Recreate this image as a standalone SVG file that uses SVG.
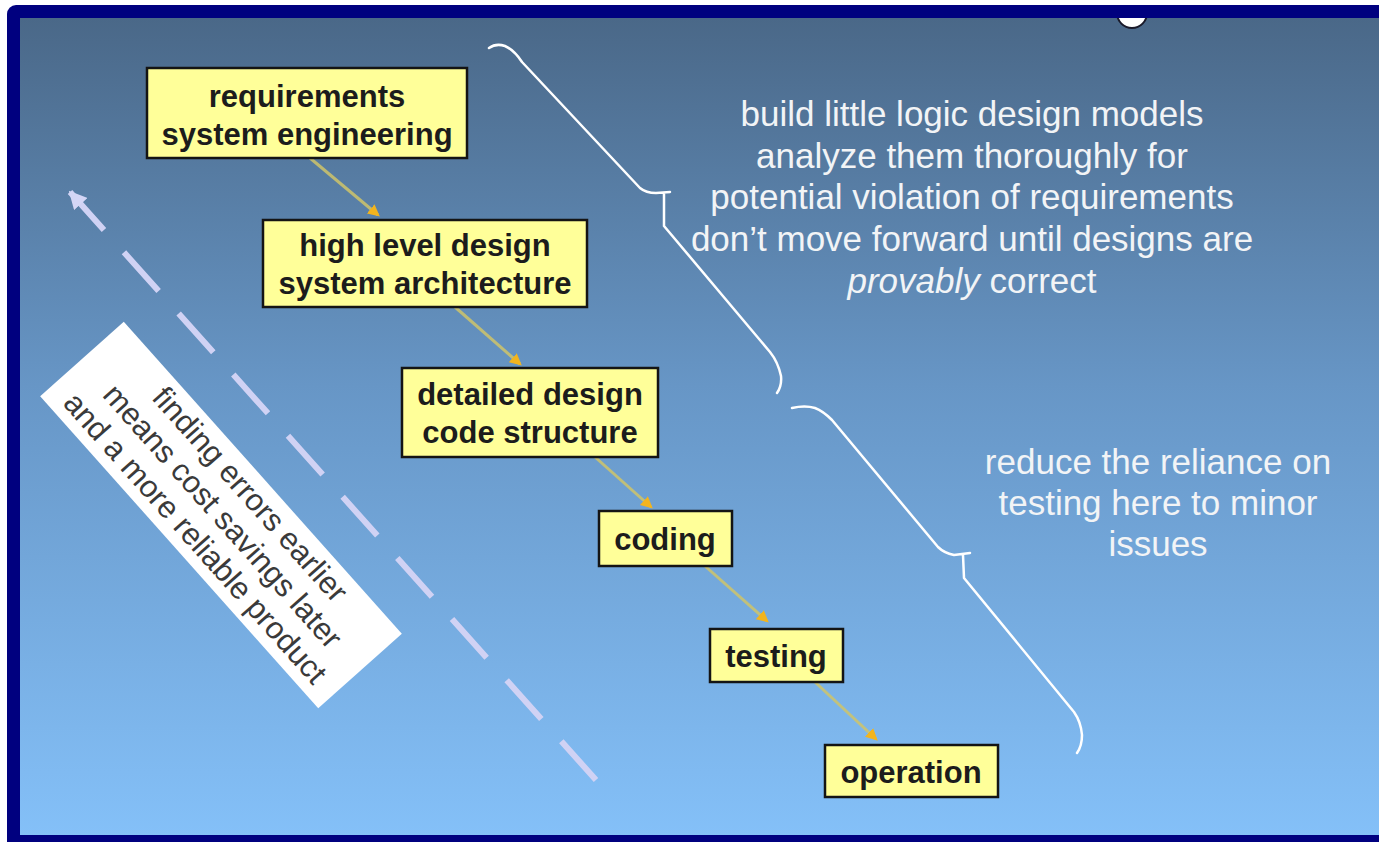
<svg xmlns="http://www.w3.org/2000/svg" width="1379" height="842" viewBox="0 0 1379 842">
  <defs>
    <linearGradient id="sky" x1="0" y1="0" x2="0" y2="1">
      <stop offset="0" stop-color="#4a6888"/>
      <stop offset="0.45" stop-color="#6796c6"/>
      <stop offset="1" stop-color="#84c0f8"/>
    </linearGradient>
    <clipPath id="inner">
      <rect x="20" y="18" width="1359" height="817"/>
    </clipPath>
    <marker id="flowHead" viewBox="0 0 10 10" refX="8" refY="5" markerWidth="4" markerHeight="4" orient="auto">
      <path d="M0,0 L10,5 L0,10 z" fill="#f2b41e"/>
    </marker>
    <marker id="backHead" viewBox="0 0 10 10" refX="9" refY="5" markerWidth="3" markerHeight="3" orient="auto">
      <path d="M0,0 L10,5 L0,10 z" fill="#d4d6f6"/>
    </marker>
  </defs>
  <style>
    .box { fill: #ffff99; stroke: #141414; stroke-width: 2.5; }
    .lbl { font-family: "Liberation Sans", Arial, sans-serif; font-weight: bold; font-size: 31px; fill: #1c1c1c; text-anchor: middle; }
    .note { font-family: "Liberation Sans", Arial, sans-serif; font-size: 35px; fill: #f2f4f6; text-anchor: middle; }
    .card { font-family: "Liberation Sans", Arial, sans-serif; font-size: 31px; fill: #3a3a3a; text-anchor: middle; }
    .flow { stroke: #cfc46a; stroke-width: 3; fill: none; stroke-opacity: 0.85; marker-end: url(#flowHead); }
    .brace { stroke: #ffffff; stroke-width: 2.5; fill: none; stroke-linejoin: round; stroke-linecap: round; }
  </style>

  <!-- frame -->
  <rect x="0" y="0" width="1379" height="842" fill="#ffffff"/>
  <rect x="7" y="5" width="1390" height="850" rx="9" fill="#00007f"/>
  <rect x="20" y="18" width="1359" height="817" fill="url(#sky)"/>
  <g clip-path="url(#inner)">
    <circle cx="1132" cy="13" r="15" fill="#ffffff" stroke="#1a1a2a" stroke-width="2"/>
  </g>

  <!-- backward feedback arrow -->
  <g id="feedback-arrow">
    <line x1="596" y1="780" x2="70" y2="192" stroke="#d0d2f4" stroke-width="6" stroke-dasharray="52 30" marker-end="url(#backHead)"/>
  </g>

  <!-- rotated note card -->
  <g id="cost-note" transform="translate(221,515) rotate(48.3)">
    <rect x="-209" y="-56" width="418" height="112" fill="#ffffff"/>
    <text class="card" x="4" y="-25">finding errors earlier</text>
    <text class="card" x="2" y="10">means cost savings later</text>
    <text class="card" x="0" y="45">and a more reliable product</text>
  </g>

  <!-- flow connectors -->
  <g id="connectors">
    <line class="flow" x1="310" y1="158" x2="378" y2="215"/>
    <line class="flow" x1="455" y1="307" x2="520" y2="364"/>
    <line class="flow" x1="595" y1="457" x2="651" y2="507"/>
    <line class="flow" x1="705" y1="566" x2="767" y2="621"/>
    <line class="flow" x1="815" y1="682" x2="876" y2="739"/>
  </g>

  <!-- phases -->
  <g id="requirements">
    <rect class="box" x="147" y="68" width="320" height="90"/>
    <text class="lbl" x="307" y="107">requirements</text>
    <text class="lbl" x="307" y="145">system engineering</text>
  </g>
  <g id="high-level-design">
    <rect class="box" x="263" y="220" width="324" height="87"/>
    <text class="lbl" x="425" y="256">high level design</text>
    <text class="lbl" x="425" y="294">system architecture</text>
  </g>
  <g id="detailed-design">
    <rect class="box" x="402" y="368" width="256" height="89"/>
    <text class="lbl" x="530" y="405">detailed design</text>
    <text class="lbl" x="530" y="443">code structure</text>
  </g>
  <g id="coding">
    <rect class="box" x="599" y="511" width="133" height="55"/>
    <text class="lbl" x="665" y="550">coding</text>
  </g>
  <g id="testing">
    <rect class="box" x="710" y="629" width="133" height="53"/>
    <text class="lbl" x="776" y="667">testing</text>
  </g>
  <g id="operation">
    <rect class="box" x="825" y="745" width="173" height="52"/>
    <text class="lbl" x="911" y="783">operation</text>
  </g>

  <!-- braces -->
  <g id="braces">
    <path class="brace" d="M489,48 Q496,43 505,46 Q514,50 522,62 L640,188 Q646,193 656,193 L670,192 M664,194 L664,226 L770,352 Q778,362 781,376 Q782,386 777,393"/>
    <path class="brace" d="M792,408 Q805,405 815,408 Q823,411 832,420 L938,547 Q944,553 954,555 L970,553 M963,555 L964,578 L1074,712 Q1081,722 1082,735 Q1082,746 1077,753"/>
  </g>

  <!-- notes -->
  <g id="design-note">
    <text class="note" x="972" y="126">build little logic design models</text>
    <text class="note" x="972" y="168">analyze them thoroughly for</text>
    <text class="note" x="972" y="209">potential violation of requirements</text>
    <text class="note" x="972" y="251">don’t move forward until designs are</text>
    <text class="note" x="972" y="293"><tspan font-style="italic">provably</tspan> correct</text>
  </g>
  <g id="testing-note">
    <text class="note" x="1158" y="474">reduce the reliance on</text>
    <text class="note" x="1158" y="515">testing here to minor</text>
    <text class="note" x="1158" y="556">issues</text>
  </g>
</svg>
